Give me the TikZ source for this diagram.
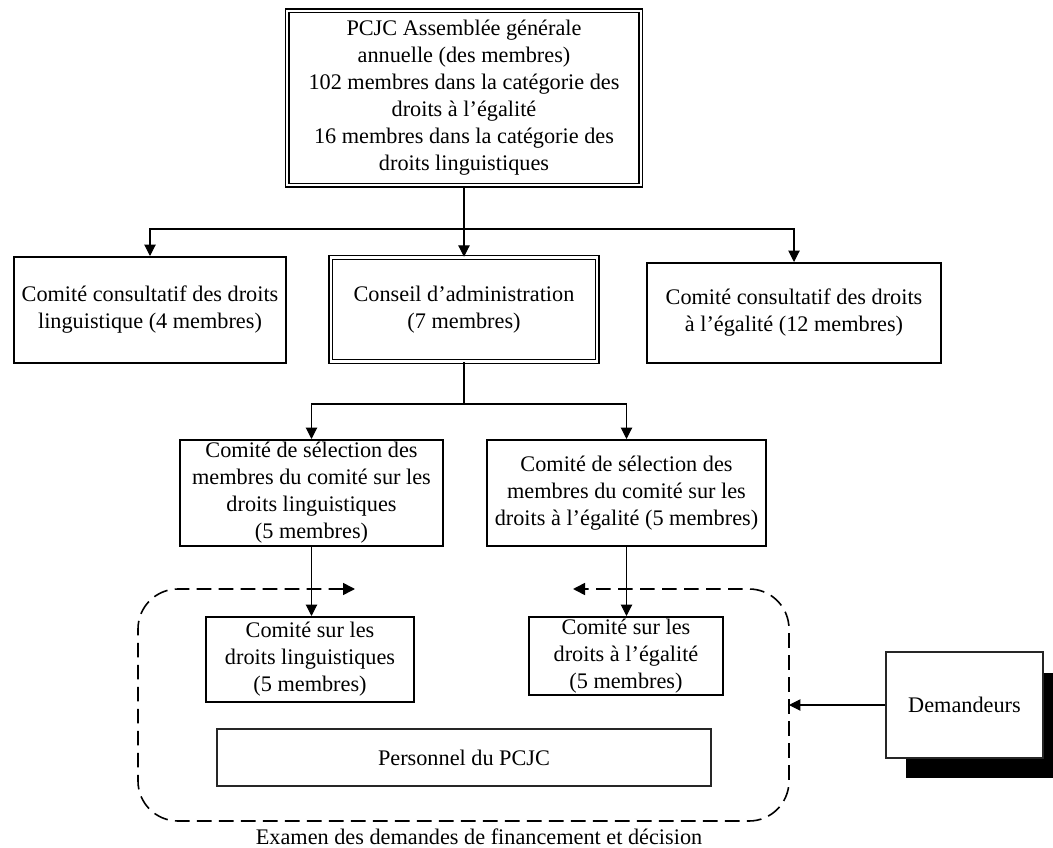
\documentclass[tikz,border=0pt]{standalone}
\usepackage{fontspec}
\setmainfont{Liberation Serif}
\usetikzlibrary{arrows.meta}
\begin{document}
\begin{tikzpicture}[x=0.75pt,y=-0.75pt,
  txt/.style={font=\fontsize{16.7pt}{20.25pt}\selectfont, align=center, inner sep=0pt},
  box/.style={txt, draw, line width=1.5pt, fill=white},
  dblbox/.style={txt, draw, line width=1.1pt, double=white, double distance=1.7pt},
  thinbox/.style={txt, draw=black!85, line width=0.9pt, fill=white},
  conn/.style={line width=0.8pt, draw=black},
  arr/.style={conn, -{Triangle[length=8.5pt,width=8.5pt]}},
  region/.style={line width=1.2pt, dash pattern=on 11pt off 5.5pt, rounded corners=30pt,
     {Triangle[length=9pt,width=9pt]}-{Triangle[length=9pt,width=9pt]}}
]
\useasboundingbox (0,0) rectangle (1053,848);

% nodes
\node[dblbox, minimum width=265pt, minimum height=131pt] (TOP) at (464,98)
  {PCJC Assemblée générale\\annuelle (des membres)\\102 membres dans la catégorie des\\droits à l’égalité\\16 membres dans la catégorie des\\droits linguistiques};
\node[box, minimum width=204pt, minimum height=79.5pt] (LC) at (150,310)
  {Comité consultatif des droits\\linguistique (4 membres)};
\node[dblbox, minimum width=200pt, minimum height=78pt] (CA) at (464,309.5)
  {Conseil d’administration\\(7 membres)};
\node[box, minimum width=220.5pt, minimum height=75pt] (RC) at (794,313)
  {Comité consultatif des droits\\à l’égalité (12 membres)};
\node[box, minimum width=197.25pt, minimum height=79.5pt] (SL) at (311.5,493)
  {Comité de sélection des\\membres du comité sur les\\droits linguistiques\\(5 membres)};
\node[box, minimum width=209.25pt, minimum height=79.5pt] (SE) at (626.5,493)
  {Comité de sélection des\\membres du comité sur les\\droits à l’égalité (5 membres)};
\node[box, minimum width=156pt, minimum height=63.75pt] (CL) at (310,659.5)
  {Comité sur les\\droits linguistiques\\(5 membres)};
\node[box, minimum width=145.5pt, minimum height=58.5pt] (CE) at (626,656)
  {Comité sur les\\droits à l’égalité\\(5 membres)};
\node[thinbox, minimum width=370.5pt, minimum height=42.75pt] (PE) at (464,757.5)
  {Personnel du PCJC};

% shadow + Demandeurs
\fill[black] (906,673) rectangle (1053,778);
\node[thinbox, minimum width=117.75pt, minimum height=79.5pt] (DM) at (964.5,705)
  {Demandeurs};

\node[txt] (LBL) at (479,837) {Examen des demandes de financement et décision};

% connectors
\coordinate (j1) at (464,229);
\draw[conn] (TOP.south) -- (j1);
\draw[arr] (j1) -| (LC.north);
\draw[arr] (j1) -- (CA.north);
\draw[arr] (j1) -| (RC.north);

\coordinate (j2) at (464,404);
\draw[conn] (CA.south) -- (j2);
\draw[arr] (j2) -| (SL.north);
\draw[arr] (j2) -| (SE.north);

\draw[arr] (SL.south) -- (SL.south |- CL.north);
\draw[arr] (SE.south) -- (SE.south |- CE.north);

% dashed region
\draw[region] (355,589) -- (138,589) -- (138,821) -- (789,821) -- (789,589) -- (573,589);
\coordinate (rgE) at (789,705);
\draw[arr] (DM.west) -- (rgE);
\end{tikzpicture}
\end{document}
